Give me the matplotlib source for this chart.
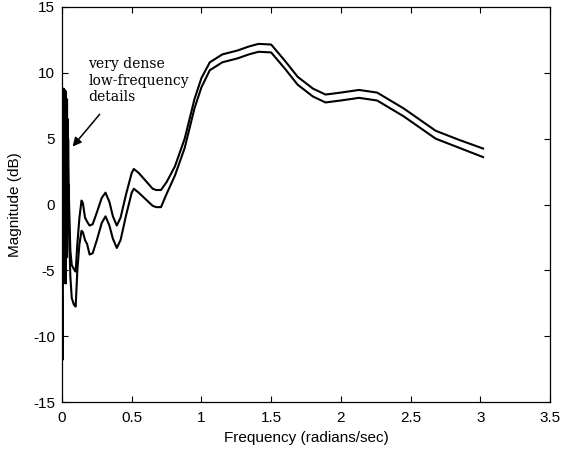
import matplotlib
matplotlib.use("Agg")
import matplotlib.pyplot as plt

# Frequency points (radians/sec) and magnitude bounds (dB)
freq = [0.000, 0.004, 0.008, 0.012, 0.016, 0.020, 0.024, 0.028, 0.032, 0.036,
        0.040, 0.044, 0.048, 0.053, 0.060, 0.070, 0.085, 0.098, 0.110, 0.125,
        0.140, 0.150, 0.165, 0.180, 0.198, 0.220, 0.250, 0.285, 0.312, 0.340,
        0.365, 0.393, 0.420, 0.460, 0.500, 0.515, 0.550, 0.600, 0.650, 0.676,
        0.710, 0.750, 0.810, 0.880, 0.950, 1.000, 1.060, 1.150, 1.260, 1.340,
        1.410, 1.500, 1.600, 1.690, 1.800, 1.890, 2.000, 2.130, 2.260, 2.450,
        2.680, 2.850, 3.020]

upper = [2.0, 8.5, -5.5, 8.8, -4.0, 8.7, -5.0, 8.6, -3.0, 8.0,
         -1.0, 5.0, 1.4, -1.0, -3.5, -4.6, -4.9, -5.1, -3.0, -1.0,
         0.3, 0.1, -1.0, -1.3, -1.6, -1.5, -0.6, 0.5, 0.9, 0.2,
         -0.9, -1.6, -1.0, 0.8, 2.4, 2.7, 2.4, 1.8, 1.2, 1.1,
         1.1, 1.7, 2.9, 5.0, 8.0, 9.6, 10.8, 11.4, 11.7, 12.0,
         12.2, 12.15, 10.9, 9.7, 8.8, 8.35, 8.5, 8.7, 8.5, 7.3,
         5.6, 4.9, 4.25]

lower = [-5.0, -11.8, 6.0, -6.0, 8.3, -5.5, 8.0, -6.0, 7.5, -4.0,
         6.5, -2.0, 1.5, -3.0, -5.5, -7.1, -7.6, -7.75, -5.0, -3.0,
         -2.0, -2.1, -2.7, -3.0, -3.8, -3.7, -2.7, -1.4, -0.9, -1.6,
         -2.6, -3.3, -2.7, -0.8, 0.9, 1.2, 0.9, 0.4, -0.1, -0.2,
         -0.2, 0.8, 2.2, 4.3, 7.3, 8.9, 10.2, 10.8, 11.1, 11.4,
         11.6, 11.55, 10.3, 9.1, 8.2, 7.75, 7.9, 8.1, 7.9, 6.7,
         5.0, 4.3, 3.6]

xticks = [0, 0.5, 1, 1.5, 2, 2.5, 3, 3.5]
xticklabels = ["0", "0.5", "1", "1.5", "2", "2.5", "3", "3.5"]
yticks = [-15, -10, -5, 0, 5, 10, 15]
yticklabels = ["-15", "-10", "-5", "0", "5", "10", "15"]

plt.rcParams['font.family'] = ['Liberation Sans', 'DejaVu Sans']

fig = plt.figure(figsize=(5.62, 4.59), dpi=100)
ax = fig.add_axes([62/562, 57/459, 488/562, 395/459])

ax.plot(freq, upper, color='black', linewidth=1.5)
ax.plot(freq, lower, color='black', linewidth=1.5)

ax.set_xlim(0, 3.5)
ax.set_ylim(-15, 15)
ax.set_xticks(xticks)
ax.set_xticklabels(xticklabels)
ax.set_yticks(yticks)
ax.set_yticklabels(yticklabels)
ax.tick_params(direction='in', top=True, right=True, length=4, width=0.8,
               labelsize=11)
ax.tick_params(axis='x', pad=6.5)
ax.tick_params(axis='y', pad=5)
for s in ax.spines.values():
    s.set_linewidth(0.9)

ax.set_xlabel("Frequency (radians/sec)", fontsize=11, labelpad=4)
ax.set_ylabel("Magnitude (dB)", fontsize=11, labelpad=8)

ax.text(0.19, 9.4, "very dense\nlow-frequency\ndetails",
        fontsize=10, family=['DejaVu Serif'], va='center', ha='left',
        linespacing=1.25)
ax.annotate("", xy=(0.076, 4.4), xytext=(0.27, 6.85),
            arrowprops=dict(arrowstyle='-|>', color='black', lw=1.1,
                            shrinkA=0, shrinkB=0, mutation_scale=13))

fig.savefig("out.png", dpi=100)
